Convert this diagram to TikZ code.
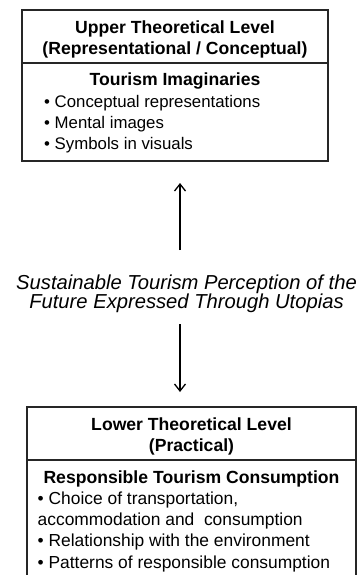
\documentclass[tikz,border=0pt]{standalone}
\usepackage{fontspec}
\setmainfont{Liberation Sans}
\usetikzlibrary{arrows.meta}
\tikzset{
  boxline/.style={line width=1.3pt, draw=black!85},
  ttl/.style={font=\fontsize{17.6}{20}\selectfont\bfseries, anchor=base, inner sep=0pt},
  itm/.style={font=\fontsize{16.8}{20}\selectfont, anchor=base west, inner sep=0pt},
  itmb/.style={font=\fontsize{17.4}{20}\selectfont, anchor=base west, inner sep=0pt},
  midtxt/.style={font=\fontsize{20.2}{22}\selectfont\itshape, anchor=base, inner sep=0pt},
  arr/.style={line width=1.3pt, -{Straight Barb[length=7pt,width=11pt]}}
}
\begin{document}
\begin{tikzpicture}[x=1pt,y=-1pt]
\useasboundingbox (0,0) rectangle (361,575);
\clip (0,0) rectangle (361,575);
% upper box
\draw[boxline] (22,10) rectangle (328,161);
\draw[boxline] (22,63) -- (328,63);
\node[ttl] (u1) at (175,33.3) {Upper Theoretical Level};
\node[ttl] (u2) at (175,55) {(Representational / Conceptual)};
\node[ttl] (u3) at (175,86) {Tourism Imaginaries};
\node[itm] (u4) at (44,107.5) {\textbullet\ Conceptual representations};
\node[itm] (u5) at (44,128.5) {\textbullet\ Mental images};
\node[itm] (u6) at (44,149) {\textbullet\ Symbols in visuals};
% middle text
\node[midtxt] (m1) at (186.5,289) {Sustainable Tourism Perception of the};
\node[midtxt] (m2) at (186.5,308.3) {Future Expressed Through Utopias};
% arrows
\coordinate (a1) at (180,250);
\coordinate (a2) at (180,183);
\coordinate (b1) at (180,324);
\coordinate (b2) at (180,392);
\draw[arr] (a1) -- (a2);
\draw[arr] (b1) -- (b2);
% lower box
\draw[boxline] (27,590) -- (27,407) -- (356,407) -- (356,590);
\draw[boxline] (27,460) -- (356,460);
\node[ttl] (l1) at (191.5,430.7) {Lower Theoretical Level};
\node[ttl] (l2) at (191.5,451) {(Practical)};
\node[ttl] (l3) at (191.5,483.3) {Responsible Tourism Consumption};
\node[itmb] (l4) at (37.5,504) {\textbullet\ Choice of transportation,};
\node[itmb] (l5) at (37.5,525.7) {accommodation and\ \ consumption};
\node[itmb] (l6) at (37.5,546.7) {\textbullet\ Relationship with the environment};
\node[itmb] (l7) at (37.5,568.3) {\textbullet\ Patterns of responsible consumption};
\end{tikzpicture}
\end{document}
